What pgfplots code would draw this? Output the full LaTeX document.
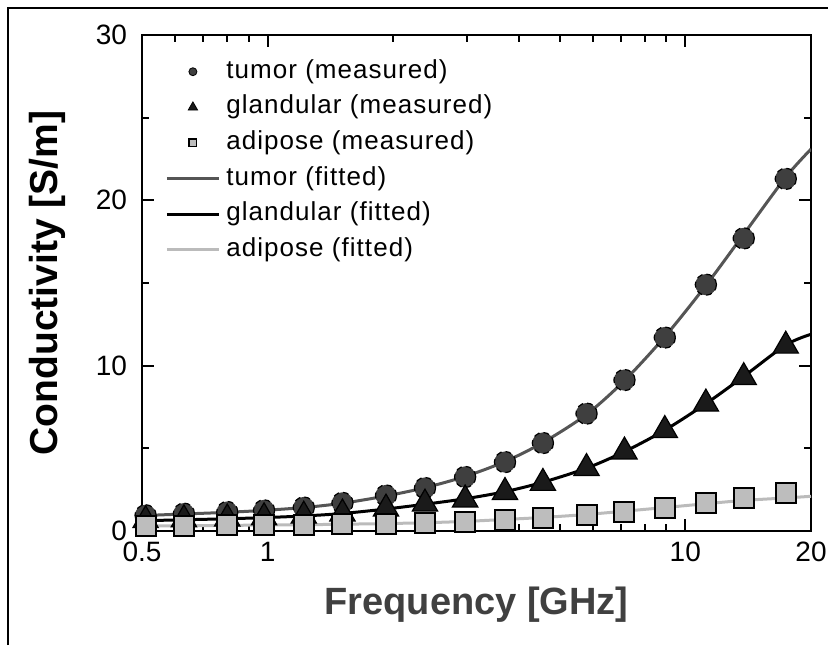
\documentclass[border=0pt]{standalone}
\usepackage{fontspec}
\setmainfont{Liberation Sans}
\newfontfamily\legfont[LetterSpace=4]{Liberation Sans}
\usepackage{pgfplots}
\pgfplotsset{compat=1.18}
\definecolor{tumorfill}{HTML}{3F3F3F}
\definecolor{tumorline}{HTML}{555555}
\definecolor{glandfill}{HTML}{1A1A1A}
\definecolor{adipfill}{HTML}{BDBDBD}
\definecolor{adipline}{HTML}{BBBBBB}
\pgfplotsset{
  markentry/.style={legend image code/.code={%
      \path (0pt,0pt) (26pt,0pt);
      \draw[##1] plot coordinates {(13pt,0pt)};}},
  lineentry/.style={legend image code/.code={%
      \draw[##1] (0pt,0pt) -- (26pt,0pt);}},
}

% measured data
\pgfplotstableread{
f     tumor  gland  adip
0.51  0.95   0.65   0.32
0.63  1.05   0.70   0.33
0.80  1.15   0.75   0.35
0.98  1.25   0.82   0.37
1.22  1.42   0.92   0.39
1.51  1.70   1.05   0.41
1.92  2.15   1.35   0.44
2.38  2.60   1.65   0.47
2.97  3.27   1.90   0.55
3.70  4.17   2.35   0.68
4.56  5.32   2.90   0.80
5.80  7.10   3.80   0.97
7.15  9.13   4.80   1.12
8.93  11.7   6.10   1.40
11.2  14.9   7.70   1.68
13.8  17.7   9.30   1.98
17.4  21.3   11.2   2.30
}\measured

% fitted curves
\pgfplotstableread{
f     tumor  gland  adip
0.50  0.93   0.62   0.30
0.63  1.03   0.68   0.32
0.80  1.13   0.74   0.34
0.98  1.25   0.81   0.36
1.22  1.42   0.91   0.38
1.51  1.68   1.06   0.41
1.92  2.12   1.33   0.45
2.38  2.62   1.62   0.50
2.97  3.30   1.95   0.58
3.70  4.20   2.38   0.70
4.56  5.35   2.95   0.82
5.80  7.05   3.80   1.00
7.15  9.10   4.80   1.20
8.93  11.75  6.10   1.42
11.2  14.85  7.70   1.65
13.8  17.95  9.35   1.85
17.4  21.40  11.25  2.00
20.0  23.10  11.90  2.10
}\fitted

\begin{document}
\begin{tikzpicture}
\useasboundingbox (0,0) rectangle (414pt,322.5pt);
\draw[line width=1pt] (4pt,0pt) -- (4pt,318.5pt) -- (414pt,318.5pt);
\begin{axis}[
    at={(71pt,57pt)}, anchor=south west,
    scale only axis,
    width=334.5pt, height=248pt,
    xmode=log,
    xmin=0.5, xmax=20,
    ymin=0, ymax=30,
    xtick={0.5,1,10,20},
    xticklabels={0.5,1,10,20},
    minor xtick={0.6,0.7,0.8,0.9,2,3,4,5,6,7,8,9},
    ytick={0,10,20,30},
    yticklabels={0,10,20,30},
    minor ytick={5,15,25},
    tick align=inside,
    major tick length=6pt,
    minor tick length=3.5pt,
    every tick/.style={black, line width=1pt},
    axis line style={line width=1.1pt},
    tick label style={font=\fontsize{14}{14}\selectfont, text=black},
    xticklabel style={yshift=-2pt},
    yticklabel style={xshift=-4pt},
    xlabel={Frequency [GHz]},
    ylabel={Conductivity [S/m]},
    xlabel style={at={(axis description cs:0.5,-0.148)}, anchor=center,
                  font=\fontsize{19}{19}\selectfont\bfseries, text=black!75},
    ylabel style={at={(axis description cs:-0.142,0.5)}, anchor=center, rotate=0,
                  font=\fontsize{19.5}{20}\selectfont\bfseries},
    legend style={draw=none, fill=none,
                  at={(axis description cs:0.0344,0.952)}, anchor=north west,
                  font=\legfont\fontsize{13}{14}\selectfont,
                  inner sep=0pt, row sep=5.3pt, column sep=3pt,
                  nodes={inner sep=0pt, text height=9.5pt, text depth=3pt}},
    legend cell align=left,
]
% legend entries
\addlegendimage{markentry, only marks, mark=*, mark size=2pt, mark options={fill=tumorfill, draw=black}}
\addlegendentry{tumor (measured)}
\addlegendimage{markentry, only marks, mark=triangle*, mark size=2.7pt, mark options={fill=glandfill, draw=black}}
\addlegendentry{glandular (measured)}
\addlegendimage{markentry, only marks, mark=square*, mark size=1.9pt, mark options={fill=adipfill, draw=black, line width=0.7pt}}
\addlegendentry{adipose (measured)}
\addlegendimage{lineentry, tumorline, line width=1.5pt}
\addlegendentry{tumor (fitted)}
\addlegendimage{lineentry, black, line width=1.5pt}
\addlegendentry{glandular (fitted)}
\addlegendimage{lineentry, adipline, line width=1.5pt}
\addlegendentry{adipose (fitted)}

% fitted lines
\addplot[forget plot, tumorline, line width=1.5pt, smooth] table[x=f, y=tumor] {\fitted};
\addplot[forget plot, black, line width=1.5pt, smooth] table[x=f, y=gland] {\fitted};
\addplot[forget plot, adipline, line width=1.5pt, smooth] table[x=f, y=adip] {\fitted};

% measured points
\addplot[forget plot, only marks, mark=*, mark size=5.3pt,
         mark options={fill=tumorfill, draw=black, line width=0.6pt, densely dashed}]
         table[x=f, y=tumor] {\measured};
\addplot[forget plot, only marks, mark=triangle*, mark size=7.3pt,
         mark options={fill=glandfill, draw=black, line width=0.6pt}]
         table[x=f, y=gland] {\measured};
\addplot[forget plot, only marks, mark=square*, mark size=5pt,
         mark options={fill=adipfill, draw=black, line width=1pt}]
         table[x=f, y=adip] {\measured};
\end{axis}
\end{tikzpicture}
\end{document}
